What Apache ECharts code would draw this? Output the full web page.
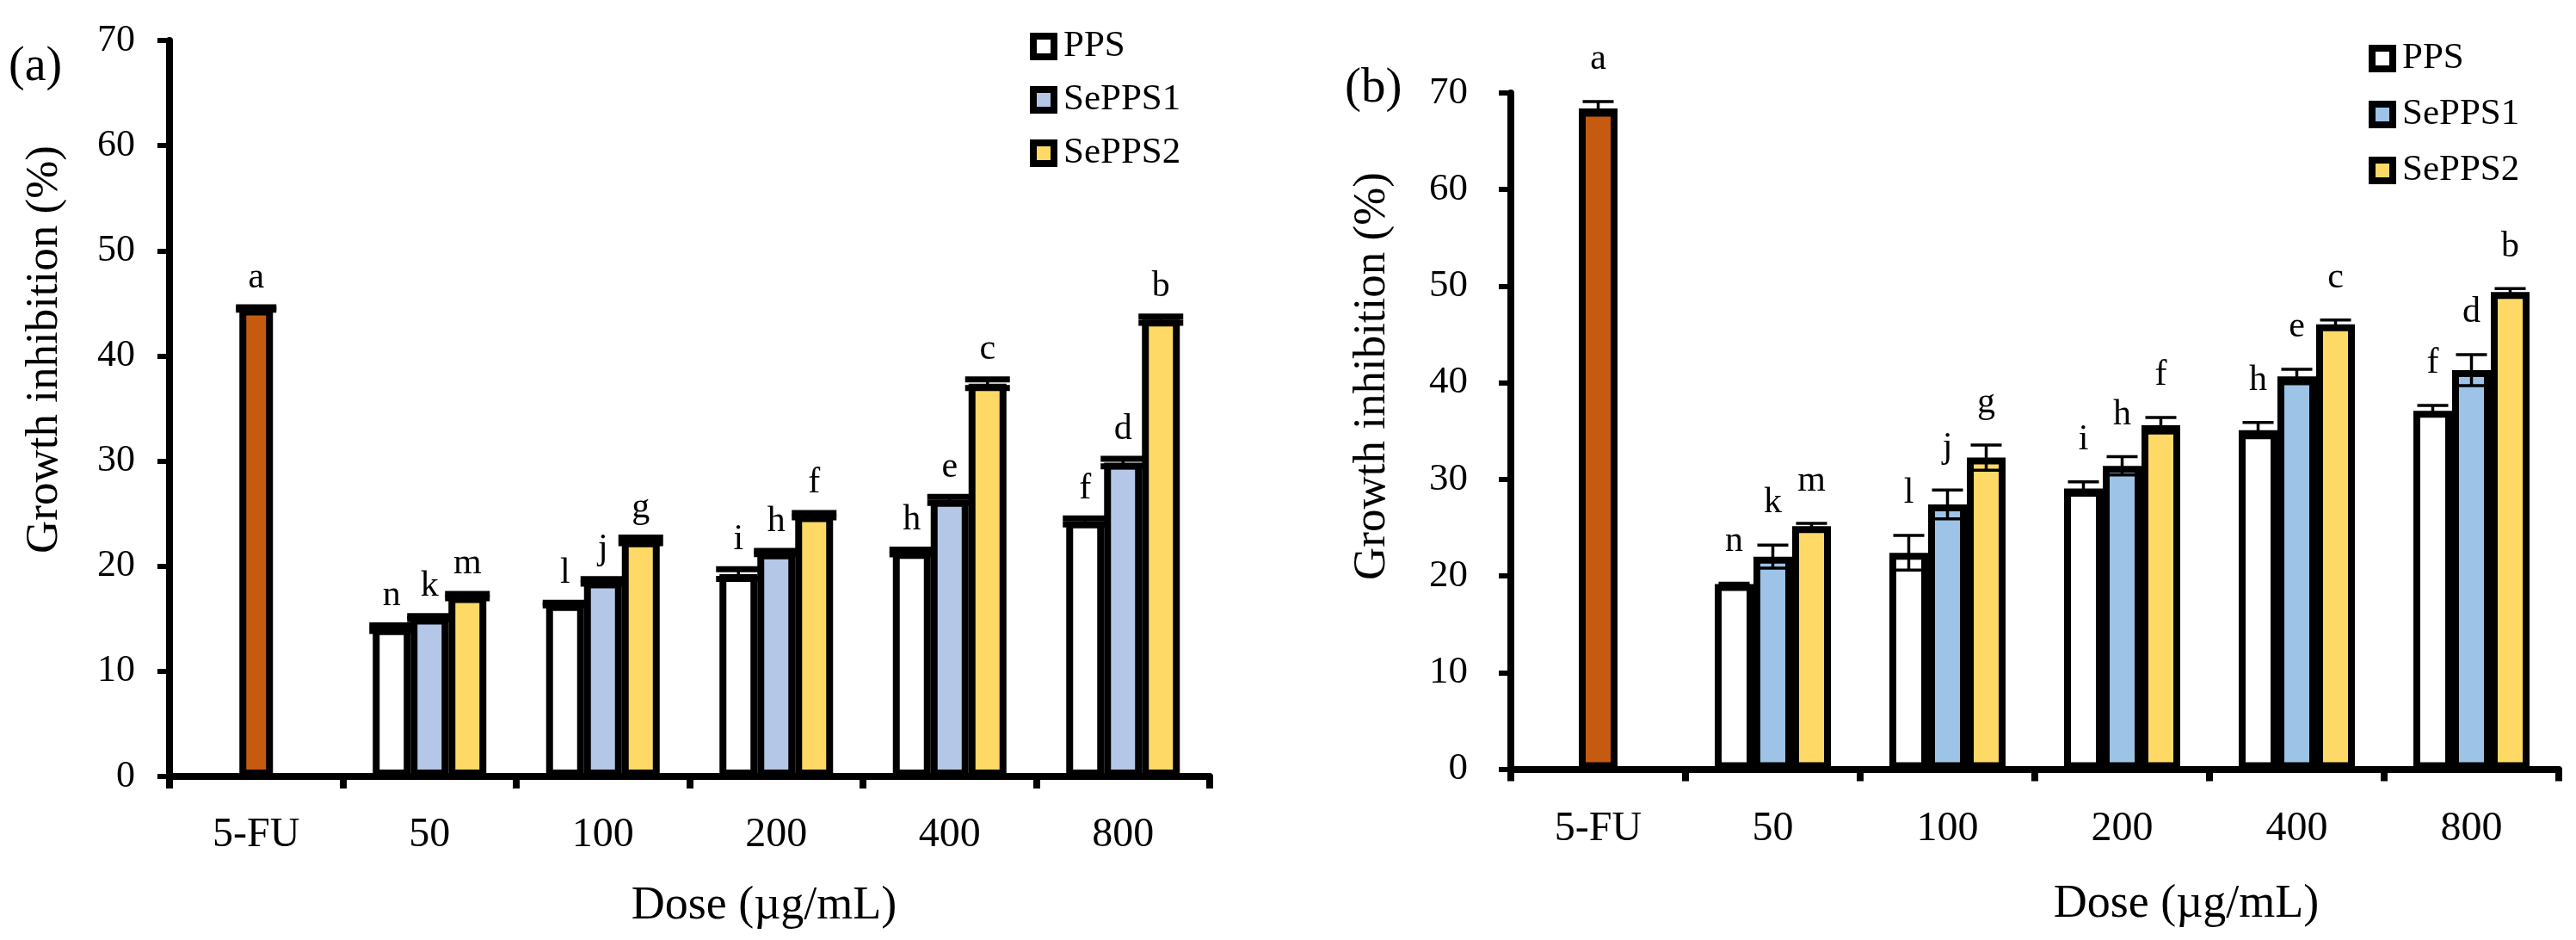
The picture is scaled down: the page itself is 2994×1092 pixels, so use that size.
<!DOCTYPE html>
<html>
<head>
<meta charset="utf-8">
<script src="https://cdn.jsdelivr.net/npm/echarts@6/dist/echarts.min.js"></script>
<style>
html,body{margin:0;padding:0;background:#fff;}
#chart{width:2994px;height:1092px;}
</style>
</head>
<body>
<div id="chart"></div>
<script>
// ---------- data ----------
const categories = ['5-FU', '50', '100', '200', '400', '800'];
const seriesNames = ['PPS', 'SePPS1', 'SePPS2'];
const yTicks = [0, 10, 20, 30, 40, 50, 60, 70];

// panel (a)
const aFU = [44.5];
const aFUErr = [0.11];
const aPPS = [14.1, 16.4, 19.25, 21.35, 24.25];
const aPPSErr = [0.27, 0.12, 0.47, 0.23, 0.29];
const aSe1 = [15.1, 18.55, 21.3, 26.3, 29.85];
const aSe1Err = [0.14, 0.21, 0.15, 0.28, 0.36];
const aSe2 = [17.15, 22.45, 24.85, 37.35, 43.45];
const aSe2Err = [0.21, 0.26, 0.21, 0.41, 0.3];

// panel (b)
const bFU = [68.4];
const bFUErr = [0.7];
const bPPS = [19.15, 22.4, 29.05, 35.1, 37.1];
const bPPSErr = [0.1, 1.8, 0.7, 0.8, 0.55];
const bSe1 = [22.0, 27.4, 31.4, 40.65, 41.3];
const bSe1Err = [1.2, 1.5, 0.95, 0.75, 1.6];
const bSe2 = [25.15, 32.25, 35.6, 46.05, 49.4];
const bSe2Err = [0.3, 1.3, 0.8, 0.45, 0.35];

// significance letters (same in both panels)
const fuLetters = ['a'];
const ppsLetters = ['n', 'l', 'i', 'h', 'f'];
const se1Letters = ['k', 'j', 'h', 'e', 'd'];
const se2Letters = ['m', 'g', 'f', 'c', 'b'];

// ---------- styling ----------
const FONT = 'Liberation Serif';
const C_FU = '#C55A11';
const C_PPS = '#FFFFFF';
const C_SE1_A = '#B4C7E7';
const C_SE1_B = '#9DC3E6';
const C_SE2 = '#FFD966';

const chart = echarts.init(document.getElementById('chart'), null, {renderer: 'canvas'});

function groupData(arr) { return [null].concat(arr); }
function fuData(arr) { return categories.map((c, i) => (i === 0 ? arr[0] : null)); }

function barSeries(name, data, color, xi, yi, bw) {
  return {
    type: 'bar', name: name, xAxisIndex: xi, yAxisIndex: yi,
    data: data, barWidth: bw, barGap: '0%', z: 2,
    itemStyle: {color: color, borderColor: '#000', borderWidth: 8},
    emphasis: {disabled: true}, animation: false
  };
}

function errSeries(xi, yi, vals, errs, letters, startCat, offset, capHalf, capLW, gap) {
  return {
    type: 'custom', xAxisIndex: xi, yAxisIndex: yi, z: 5, animation: false, silent: true,
    data: vals.map((v, i) => [startCat + i, v, errs[i]]),
    renderItem: function (params, api) {
      const cat = api.value(0), v = api.value(1), e = api.value(2);
      const c = api.coord([cat, v]);
      const x = c[0] + offset;
      const yt = api.coord([cat, v + e])[1];
      const yb = api.coord([cat, v - e])[1];
      const ls = {stroke: '#000', lineWidth: capLW};
      return {
        type: 'group',
        children: [
          {type: 'line', shape: {x1: x, y1: yt, x2: x, y2: yb}, style: {stroke: '#000', lineWidth: 3.5}},
          {type: 'line', shape: {x1: x - capHalf, y1: yt, x2: x + capHalf, y2: yt}, style: ls},
          {type: 'line', shape: {x1: x - capHalf, y1: yb, x2: x + capHalf, y2: yb}, style: ls},
          {type: 'text', x: x, y: yt - capLW / 2 - gap,
           style: {text: letters[params.dataIndex], fontFamily: FONT, fontSize: 42, fill: '#000',
                   align: 'center', verticalAlign: 'bottom'}}
        ]
      };
    }
  };
}

function xAxisMain(gi, show, labelMargin) {
  return {
    type: 'category', gridIndex: gi, data: categories, show: show,
    boundaryGap: true,
    axisLine: {show: true, lineStyle: {color: '#000', width: 8}},
    axisTick: {show: true, inside: false, length: 14, lineStyle: {color: '#000', width: 8}},
    axisLabel: {show: true, margin: labelMargin, fontFamily: FONT, fontSize: 48, color: '#000'},
    splitLine: {show: false}
  };
}
function yAxisMain(gi, labelMargin, fs) {
  return {
    type: 'value', gridIndex: gi, min: yTicks[0], max: yTicks[yTicks.length - 1], interval: 10,
    axisLine: {show: true, lineStyle: {color: '#000', width: 8}},
    axisTick: {show: true, inside: false, length: 14, lineStyle: {color: '#000', width: 6}},
    axisLabel: {margin: labelMargin, fontFamily: FONT, fontSize: fs, color: '#000'},
    splitLine: {show: false}
  };
}

const BW_A = 44, BW_FU_A = 39, BW_B = 45, BW_FU_B = 45;

const option = {
  backgroundColor: '#fff',
  animation: false,
  grid: [
    {left: 197, top: 47, width: 1209, height: 855, containLabel: false},
    {left: 1756, top: 108, width: 1218, height: 785.5, containLabel: false}
  ],
  xAxis: [
    xAxisMain(0, true, 44),
    Object.assign(xAxisMain(0, false, 44), {show: false}),
    xAxisMain(1, true, 46),
    Object.assign(xAxisMain(1, false, 46), {show: false})
  ],
  yAxis: [yAxisMain(0, 40, 44), yAxisMain(1, 50, 45)],
  legend: [
    {
      orient: 'vertical', left: 1192, top: 27, icon: 'rect', selectedMode: false,
      itemWidth: 24, itemHeight: 24, itemGap: 18,
      itemStyle: {borderColor: '#000', borderWidth: 8},
      textStyle: {fontFamily: FONT, fontSize: 43, lineHeight: 44, color: '#000', padding: [0, 0, 0, 6]},
      data: [
        {name: seriesNames[0], itemStyle: {color: C_PPS}},
        {name: seriesNames[1], itemStyle: {color: C_SE1_A}},
        {name: seriesNames[2], itemStyle: {color: C_SE2}}
      ]
    },
    {
      orient: 'vertical', left: 2748, top: 41, icon: 'rect', selectedMode: false,
      itemWidth: 24, itemHeight: 24, itemGap: 21,
      itemStyle: {borderColor: '#000', borderWidth: 8},
      textStyle: {fontFamily: FONT, fontSize: 43, lineHeight: 44, color: '#000', padding: [0, 0, 0, 6]},
      data: [
        {name: seriesNames[0], itemStyle: {color: C_PPS}},
        {name: seriesNames[1], itemStyle: {color: C_SE1_B}},
        {name: seriesNames[2], itemStyle: {color: C_SE2}}
      ]
    }
  ],
  graphic: [
    {type: 'text', left: 10, top: 50, style: {text: '(a)', fontFamily: FONT, fontSize: 56, fill: '#000'}},
    {type: 'text', left: 1563, top: 75, style: {text: '(b)', fontFamily: FONT, fontSize: 57, fill: '#000'}},
    {type: 'text', x: 52, y: 406, rotation: Math.PI / 2,
     style: {text: 'Growth inhibition (%)', fontFamily: FONT, fontSize: 53, fill: '#000', align: 'center', verticalAlign: 'middle'}},
    {type: 'text', x: 1595, y: 437, rotation: Math.PI / 2,
     style: {text: 'Growth inhibition (%)', fontFamily: FONT, fontSize: 53, fill: '#000', align: 'center', verticalAlign: 'middle'}},
    {type: 'text', x: 888, y: 1053,
     style: {text: 'Dose (\u00b5g/mL)', fontFamily: FONT, fontSize: 54, fill: '#000', align: 'center', verticalAlign: 'middle'}},
    {type: 'text', x: 2541, y: 1051,
     style: {text: 'Dose (\u00b5g/mL)', fontFamily: FONT, fontSize: 54, fill: '#000', align: 'center', verticalAlign: 'middle'}}
  ],
  series: [
    // panel (a)
    barSeries('5-FU', fuData(aFU), C_FU, 1, 0, BW_FU_A),
    barSeries(seriesNames[0], groupData(aPPS), C_PPS, 0, 0, BW_A),
    barSeries(seriesNames[1], groupData(aSe1), C_SE1_A, 0, 0, BW_A),
    barSeries(seriesNames[2], groupData(aSe2), C_SE2, 0, 0, BW_A),
    errSeries(0, 0, aFU, aFUErr, fuLetters, 0, 0, BW_FU_A / 2 + 4, 7, 10),
    errSeries(0, 0, aPPS, aPPSErr, ppsLetters, 1, -BW_A, BW_A / 2 + 4, 7, 10),
    errSeries(0, 0, aSe1, aSe1Err, se1Letters, 1, 0, BW_A / 2 + 4, 7, 10),
    errSeries(0, 0, aSe2, aSe2Err, se2Letters, 1, BW_A, BW_A / 2 + 4, 7, 10),
    // panel (b)
    barSeries('5-FU', fuData(bFU), C_FU, 3, 1, BW_FU_B),
    barSeries(seriesNames[0], groupData(bPPS), C_PPS, 2, 1, BW_B),
    barSeries(seriesNames[1], groupData(bSe1), C_SE1_B, 2, 1, BW_B),
    barSeries(seriesNames[2], groupData(bSe2), C_SE2, 2, 1, BW_B),
    errSeries(2, 1, bFU, bFUErr, fuLetters, 0, 0, 18, 3.5, 26),
    errSeries(2, 1, bPPS, bPPSErr, ppsLetters, 1, -BW_B, 18, 3.5, 26),
    errSeries(2, 1, bSe1, bSe1Err, se1Letters, 1, 0, 18, 3.5, 26),
    errSeries(2, 1, bSe2, bSe2Err, se2Letters, 1, BW_B, 18, 3.5, 26)
  ]
};
chart.setOption(option);
</script>
</body>
</html>
